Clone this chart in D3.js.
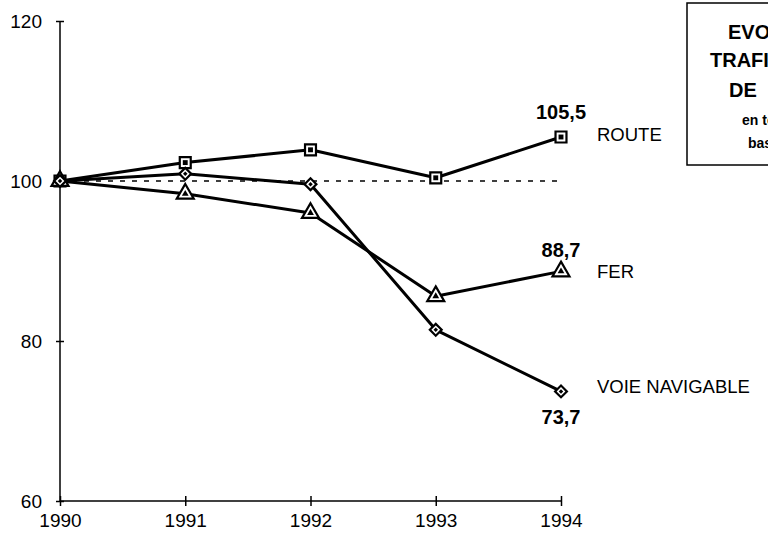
<!DOCTYPE html>
<html>
<head>
<meta charset="utf-8" />
<title>Evolution du trafic</title>
<script src="https://d3js.org/d3.v7.min.js"></script>
<style>
  body { margin: 0; background: #fff; }
  svg { display: block; font-family: "Liberation Sans", Arial, sans-serif; }
  .line { fill: none; stroke: #000; stroke-width: 3; stroke-linejoin: round; }
  .axis path, .axis line { stroke: #000; stroke-width: 1.5; }
</style>
</head>
<body>
<svg width="768" height="536"></svg>
<script>
// data
var years = [1990, 1991, 1992, 1993, 1994];
var route = [100, 102.3, 103.9, 100.4, 105.5];
var fer = [100, 98.4, 96.0, 85.6, 88.7];
var voie = [100, 100.9, 99.6, 81.4, 73.7];
var seriesNames = ['ROUTE', 'FER', 'VOIE NAVIGABLE'];
var endLabels = ['105,5', '88,7', '73,7'];
var yTicks = [60, 80, 100, 120];
var titleLines = ['EVOLUTION', 'TRAFIC', 'DE'];
var subLines = ['en tonnes-km', 'base 100'];

var svg = d3.select('svg');

var x = d3.scalePoint().domain(years).range([60, 561]);
var y = d3.scaleLinear().domain([60, 120]).range([501, 21]);

// axes
svg.append('g')
  .attr('class', 'axis')
  .attr('transform', 'translate(60,0)')
  .call(d3.axisLeft(y).tickValues(yTicks).tickSize(4).tickPadding(14))
  .call(function (g) {
    g.select('.domain').attr('d', 'M0,' + y(60) + 'V' + y(120));
    g.selectAll('.tick line').attr('x1', -4).attr('x2', 4);
    g.selectAll('text').attr('font-size', 19).attr('fill', '#000');
  });

svg.append('g')
  .attr('class', 'axis')
  .attr('transform', 'translate(0,' + y(60) + ')')
  .call(d3.axisBottom(x).tickSize(4).tickPadding(9))
  .call(function (g) {
    g.select('.domain').attr('d', 'M' + x(1990) + ',0H' + x(1994));
    g.selectAll('.tick line').attr('y1', -5).attr('y2', 5);
    g.selectAll('text').attr('font-size', 19).attr('fill', '#000');
  });
svg.selectAll('.axis').attr('font-family', null);

// dashed reference line at 100
svg.append('line')
  .attr('x1', x(1990)).attr('x2', x(1994))
  .attr('y1', y(100)).attr('y2', y(100))
  .attr('stroke', '#000').attr('stroke-width', 1.3)
  .attr('stroke-dasharray', '5,7');

var line = d3.line()
  .x(function (d, i) { return x(years[i]); })
  .y(function (d) { return y(d); });

var allSeries = [route, fer, voie];
var symbols = [d3.symbolSquare, d3.symbolTriangle, d3.symbolSquare];
var symSize = [120, 125, 70];
var symRot = [0, 0, 45];
var innerSize = [24, 20, 10];

allSeries.forEach(function (s) {
  svg.append('path').datum(s).attr('class', 'line').attr('d', line);
});

allSeries.forEach(function (s, k) {
  var g = svg.append('g');
  var pos = function (d, i) {
    return 'translate(' + x(years[i]) + ',' + y(d) + ') rotate(' + symRot[k] + ')';
  };
  g.selectAll('path.mk')
    .data(s)
    .enter()
    .append('path')
    .attr('class', 'mk')
    .attr('transform', pos)
    .attr('d', d3.symbol().type(symbols[k]).size(symSize[k]))
    .attr('fill', '#fff').attr('stroke', '#000').attr('stroke-width', 2.2);
  g.selectAll('path.in')
    .data(s)
    .enter()
    .append('path')
    .attr('class', 'in')
    .attr('transform', pos)
    .attr('d', d3.symbol().type(symbols[k]).size(innerSize[k]))
    .attr('fill', '#000');
});

// end labels
var labelDy = [-18, -14, 33];
var nameDy = [4, 7, 2];
allSeries.forEach(function (s, k) {
  var last = s[s.length - 1];
  svg.append('text')
    .attr('x', x(1994)).attr('y', y(last) + labelDy[k])
    .attr('text-anchor', 'middle')
    .attr('font-size', 20).attr('font-weight', 'bold')
    .text(endLabels[k]);
  svg.append('text')
    .attr('x', 597).attr('y', y(last) + nameDy[k])
    .attr('font-size', 18.5)
    .text(seriesNames[k]);
});

// title box (cut off at the right edge, as in the source)
svg.append('rect')
  .attr('x', 687).attr('y', 3).attr('width', 120).attr('height', 162)
  .attr('fill', 'none').attr('stroke', '#000').attr('stroke-width', 1.5);

var titleY = [39, 67, 97];
var titleX = [728, 710, 729];
titleLines.forEach(function (t, i) {
  svg.append('text').attr('x', titleX[i]).attr('y', titleY[i])
    .attr('font-size', 20).attr('font-weight', 'bold').text(t);
});
var subY = [125, 148];
var subX = [742, 748];
subLines.forEach(function (t, i) {
  svg.append('text').attr('x', subX[i]).attr('y', subY[i])
    .attr('font-size', 14).attr('font-weight', 'bold').text(t);
});
</script>
</body>
</html>
